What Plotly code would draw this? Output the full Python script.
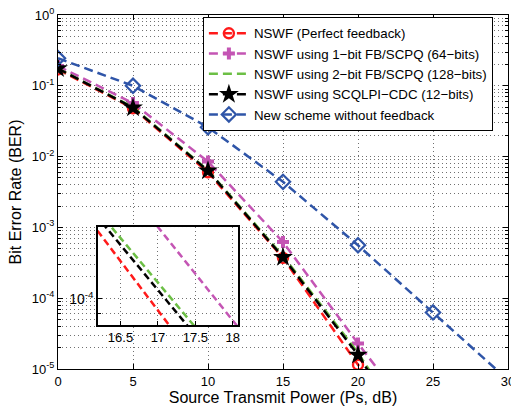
import plotly.graph_objects as go

power = [0, 5, 10, 15, 20, 25]
power_blue = [0, 5, 10, 15, 20, 25, 30]

ber_perfect = [0.17, 0.048, 0.0060, 3.7e-4, 1.15e-5, 3.6e-7]
ber_1bit = [0.19, 0.057, 0.0085, 6.2e-4, 2.3e-5, 9.5e-7]
ber_2bit = [0.175, 0.050, 0.0064, 3.95e-4, 1.7e-5, 4.0e-7]
ber_scqlpi = [0.175, 0.049, 0.0063, 3.8e-4, 1.58e-5, 3.5e-7]
ber_nofb = [0.245, 0.10, 0.026, 0.0044, 5.6e-4, 6.3e-5, 7.0e-6]

names = ["NSWF (Perfect feedback)",
         "NSWF using 1\u2212bit FB/SCPQ (64\u2212bits)",
         "NSWF using 2\u2212bit FB/SCPQ (128\u2212bits)",
         "NSWF using SCQLPI\u2212CDC (12\u2212bits)",
         "New scheme without feedback"]

inset_x_ticks = [16.5, 17, 17.5, 18]

colors = ["#ff1a1a", "#c455b4", "#6cbf45", "#000000", "#2f55a8"]
markers = [dict(symbol="circle-open", size=10, line=dict(width=2.4)),
           dict(symbol="cross", size=10, line=dict(width=0)),
           None,
           dict(symbol="star", size=15, line=dict(width=0)),
           dict(symbol="diamond-open", size=11, line=dict(width=2.2))]
xs = [power, power, power, power, power_blue]
ys = [ber_perfect, ber_1bit, ber_2bit, ber_scqlpi, ber_nofb]

dash = "9px,5px"
fig = go.Figure()
for i in range(5):
    m = markers[i]
    if m is None:
        fig.add_trace(go.Scatter(x=xs[i], y=ys[i], mode="lines", name=names[i],
                                 line=dict(color=colors[i], width=2.5, dash=dash)))
    else:
        mk = dict(m)
        mk["color"] = colors[i]
        if "line" in mk:
            mk["line"] = dict(mk["line"], color=colors[i])
        fig.add_trace(go.Scatter(x=xs[i], y=ys[i], mode="lines+markers", name=names[i],
                                 line=dict(color=colors[i], width=2.5, dash=dash),
                                 marker=mk))

# inset traces
for i in range(4):
    fig.add_trace(go.Scatter(x=xs[i], y=ys[i], mode="lines", showlegend=False,
                             line=dict(color=colors[i], width=2.5, dash="7px,4px"),
                             xaxis="x2", yaxis="y2"))

decades = [10.0 ** k for k in range(-5, 1)]
dec_text = ["10<sup>%d</sup>" % k for k in range(-5, 1)]
minor_vals = [m * 10.0 ** k for k in range(-5, 0) for m in range(2, 10)]

gdash = "1px,3px"
gcol = "#707070"
grid = dict(gridcolor=gcol, griddash=gdash, gridwidth=1)

fig.update_layout(
    width=511, height=407,
    margin=dict(l=58, r=3, t=15, b=38, autoexpand=False),
    paper_bgcolor="white", plot_bgcolor="white",
    font=dict(family="Liberation Sans, Arial, sans-serif", size=13, color="black"),
    showlegend=True,
    legend=dict(x=0.322, y=0.994, xanchor="left", yanchor="top",
                bgcolor="white", bordercolor="black", borderwidth=1,
                font=dict(size=13.3), tracegroupgap=0, itemwidth=40),
    xaxis=dict(range=[0, 30], tickvals=[0, 5, 10, 15, 20, 25, 30],
               showline=True, linecolor="black", linewidth=1, mirror="ticks",
               ticks="inside", ticklen=5, tickcolor="black", ticklabeloverflow="allow",
               showgrid=True, **grid, zeroline=False, automargin=False,
               title=dict(text="Source Transmit Power (Ps, dB)", standoff=3),
               domain=[0, 1]),
    yaxis=dict(type="log", range=[-5, 0], tickmode="array", tickvals=decades, ticktext=dec_text,
               showline=True, linecolor="black", linewidth=1, mirror="ticks",
               ticks="inside", ticklen=5, tickcolor="black",
               showgrid=True, **grid, zeroline=False, automargin=False,
               minor=dict(tickmode="array", tickvals=minor_vals, ticks="inside", ticklen=3,
                          tickcolor="black", showgrid=True, gridcolor=gcol,
                          griddash=gdash, gridwidth=1),
               title=dict(text="Bit Error Rate (BER)", standoff=6),
               domain=[0, 1]),
    xaxis2=dict(range=[16.2, 18.07], tickvals=inset_x_ticks, ticktext=["16.5", "17", "17.5", "18"],
                anchor="y2", domain=[0.0889, 0.40], automargin=False,
                showline=True, linecolor="black", linewidth=1.5, mirror=True,
                ticks="inside", ticklen=4, tickcolor="black",
                showgrid=True, **grid, zeroline=False),
    yaxis2=dict(type="log", range=[-4.08, -3.78], tickmode="array", tickvals=[1e-4],
                ticktext=["10<sup>-4</sup>"], anchor="x2", domain=[0.124, 0.401],
                automargin=False, tickfont=dict(size=14),
                showline=True, linecolor="black", linewidth=1.5, mirror=True,
                ticks="inside", ticklen=4, tickcolor="black",
                showgrid=True, **grid, zeroline=False,
                minor=dict(tickmode="array", tickvals=[9e-5], ticks="inside", ticklen=3,
                           tickcolor="black", showgrid=True, gridcolor=gcol,
                           griddash=gdash, gridwidth=1)),
)

fig.write_html("out.html", post_script="document.body.style.margin='0px';",
               config={"displayModeBar": False})
